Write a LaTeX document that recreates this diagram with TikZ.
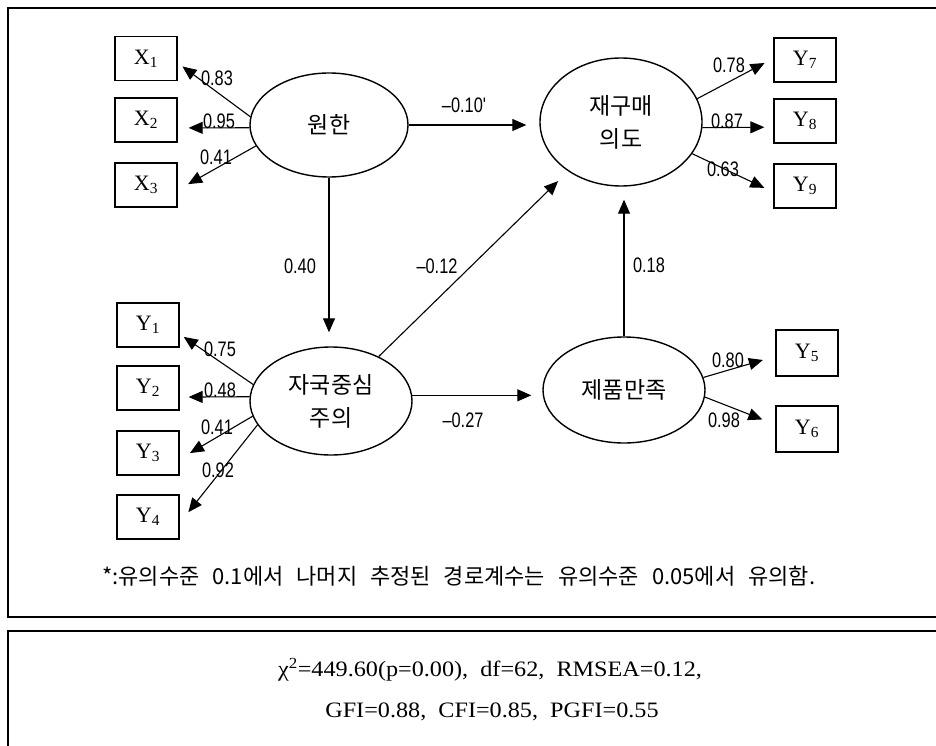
\documentclass[tikz,border=0pt]{standalone}
\usepackage{fontspec}
\setmainfont{Liberation Serif}
\newfontfamily\kor{Noto Sans CJK KR}
\newfontfamily\labf{Liberation Sans}
\usetikzlibrary{arrows.meta,shapes.geometric,calc}
\newcommand{\nar}[1]{\scalebox{0.78}[1]{#1}}
\newcommand{\wid}[1]{\scalebox{1.1}[1]{#1}}
\begin{document}
\begin{tikzpicture}[x=1pt,y=-1pt,
  latent/.style={ellipse, draw, line width=1.4pt, inner sep=0pt, align=center,
    font=\kor\fontsize{23}{33}\selectfont},
  obs/.style={rectangle, draw, line width=1.3pt, minimum width=62pt, minimum height=44pt,
    inner sep=0pt, font=\fontsize{22}{22}\selectfont},
  arr/.style={draw, line width=1.1pt, -{Triangle[length=14pt,width=12pt]}},
  coef/.style={inner sep=0pt, font=\labf\fontsize{21}{21}\selectfont},
  frame/.style={draw, line width=1.6pt}]
\useasboundingbox (0,0) rectangle (936,746);
\clip (0,0) rectangle (936,746);
\fill[white] (0,0) rectangle (936,746);
% frames
\draw[frame] (8,8) rectangle (980,617);
\draw[frame] (8,631) rectangle (980,780);
% latent variables
\node[latent, minimum width=158pt, minimum height=104pt] (W) at (329,125) {원한};
\node[latent, minimum width=162pt, minimum height=128pt] (J) at (621,122) {재구매\\의도};
\node[latent, minimum width=162pt, minimum height=108pt] (C) at (331,401) {자국중심\\주의};
\node[latent, minimum width=162pt, minimum height=106pt] (P) at (624,390) {제품만족};
% observed variables
\node[obs] (X1) at (146,58.5) {X\textsubscript{1}};
\node[obs] (X2) at (146,120) {X\textsubscript{2}};
\node[obs] (X3) at (146,185) {X\textsubscript{3}};
\node[obs] (Y1) at (148,325) {Y\textsubscript{1}};
\node[obs] (Y2) at (148,388) {Y\textsubscript{2}};
\node[obs] (Y3) at (148,453) {Y\textsubscript{3}};
\node[obs] (Y4) at (148,517) {Y\textsubscript{4}};
\node[obs] (Y7) at (805,60) {Y\textsubscript{7}};
\node[obs] (Y8) at (805,121) {Y\textsubscript{8}};
\node[obs] (Y9) at (805,186) {Y\textsubscript{9}};
\node[obs, minimum height=46pt] (Y5) at (807,353) {Y\textsubscript{5}};
\node[obs, minimum height=46pt] (Y6) at (807,429) {Y\textsubscript{6}};
% measurement paths
\draw[arr, shorten >=6pt] (W.174) -- (X1.-8.6);
\draw[arr, shorten >=11pt] (W.182) -- (X2.-14.5);
\draw[arr, shorten >=12pt] (W.196) -- (X3.-9.9);
\draw[arr, shorten >=5pt] (C.168.8) -- (Y1.-16.4);
\draw[arr, shorten >=9pt] (C.177) -- (Y2.-16);
\draw[arr, shorten >=12pt] (C.191.6) -- (Y3.-11.5);
\draw[arr, shorten >=14pt] (C.198) -- (Y4.-11.5);
\draw[arr, shorten >=10pt] (J.17) -- (Y7.177.4);
\draw[arr, shorten >=9pt] (J.-4) -- (Y8.191);
\draw[arr, shorten >=10pt] (J.-24.7) -- (Y9.191.3);
\draw[arr, shorten >=13pt] (P.9.3) -- (Y5.186);
\draw[arr, shorten >=14pt] (P.-5.8) -- (Y6.172);
% structural paths
\draw[arr, shorten >=13pt] (W.east) -- (W.east -| J.west);
\draw[arr, shorten >=14pt] (W.south) -- (W.south |- C.north);
\draw[arr, shorten >=14pt] (C.43) -- (J.223);
\draw[arr, shorten >=11pt] (C.4) -- (C.4 -| P.west);
\draw[arr, shorten >=13pt] (P.north) -- (P.north |- J.south);
% coefficients
\node[coef] (l1) at (217,78) {\nar{0.83}};
\node[coef] (l2) at (219,121) {\nar{0.95}};
\node[coef] (l3) at (216,157) {\nar{0.41}};
\node[coef] (l4) at (464,105) {\nar{–0.10'}};
\node[coef] (l5) at (300,266) {\nar{0.40}};
\node[coef] (l6) at (437,266) {\nar{–0.12}};
\node[coef] (l7) at (463,420) {\nar{–0.27}};
\node[coef] (l8) at (649,265) {\nar{0.18}};
\node[coef] (l9) at (729,65) {\nar{0.78}};
\node[coef] (l10) at (727,121) {\nar{0.87}};
\node[coef] (l11) at (723,169) {\nar{0.63}};
\node[coef] (l12) at (728,360) {\nar{0.80}};
\node[coef] (l13) at (724,420) {\nar{0.98}};
\node[coef] (l14) at (220,349) {\nar{0.75}};
\node[coef] (l15) at (220,390) {\nar{0.48}};
\node[coef] (l16) at (217,427) {\nar{0.41}};
\node[coef] (l17) at (218,470) {\nar{0.92}};
% note
\node[anchor=base west, inner sep=0pt, font=\kor\fontsize{22}{22}\selectfont] (note) at (102,584)
  {\spaceskip=13pt\relax *:유의수준 0.1에서 나머지 추정된 경로계수는 유의수준 0.05에서 유의함.};
% fit indices
\node[anchor=base, inner sep=0pt, font=\fontsize{22}{22}\selectfont] (fit1) at (490,676)
  {\wid{χ\textsuperscript{2}=449.60(p=0.00),\ \ df=62,\ \ RMSEA=0.12,}};
\node[anchor=base, inner sep=0pt, font=\fontsize{22}{22}\selectfont] (fit2) at (492,717)
  {\wid{GFI=0.88,\ \ CFI=0.85,\ \ PGFI=0.55}};
\end{tikzpicture}
\end{document}
